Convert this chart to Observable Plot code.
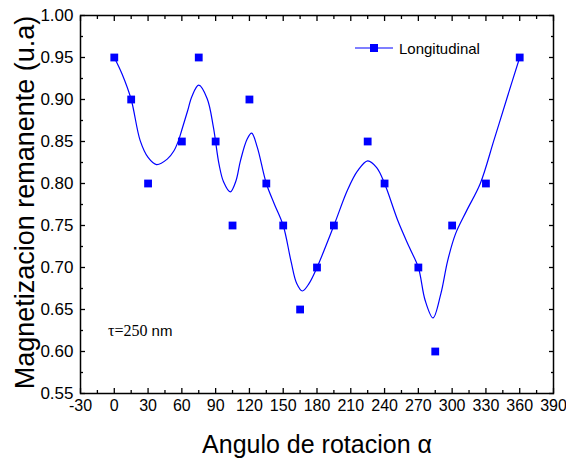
<!DOCTYPE html>
<html><head><meta charset="utf-8">
<script src="https://cdn.jsdelivr.net/npm/d3@7"></script>
<script src="https://cdn.jsdelivr.net/npm/@observablehq/plot@0.6"></script>
<style>
body{margin:0;background:#fff}
#chart{position:relative;width:566px;height:465px}
#overlay{position:absolute;left:0;top:0;pointer-events:none}
</style>
</head><body><div id="chart"></div>
<script>
// measured data points
const angles = [0,15,30,60,75,90,105,120,135,150,165,180,195,225,240,270,285,300,330,360];
const magnet = [0.95,0.90,0.80,0.85,0.95,0.85,0.75,0.90,0.80,0.75,0.65,0.70,0.75,0.85,0.80,0.70,0.60,0.75,0.80,0.95];
// smooth fit curve
const fitAngles = [0,7,15,23,30,37.5,47,53,57,60,65,69,75,82.5,88,93,97,103,108,112,118,122,127,135,142,150,157,162,167,173,180,195,207,216,225,233,240,252,262,270,276,283,290,296,303,313,325,337,349,360];
const fitValues = [0.950,0.930,0.900,0.851,0.831,0.8225,0.829,0.839,0.851,0.864,0.886,0.904,0.917,0.901,0.867,0.823,0.802,0.790,0.803,0.827,0.853,0.860,0.843,0.800,0.776,0.750,0.707,0.681,0.672,0.681,0.700,0.750,0.792,0.815,0.827,0.819,0.800,0.755,0.724,0.700,0.661,0.640,0.669,0.708,0.740,0.768,0.800,0.851,0.903,0.950];
const xTicks = [-30,0,30,60,90,120,150,180,210,240,270,300,330,360,390];
const yTicks = [0.55,0.60,0.65,0.70,0.75,0.80,0.85,0.90,0.95,1.00];
const seriesName = "Longitudinal";
const xTitle = "Angulo de rotacion α";
const yTitle = "Magnetizacion remanente (u.a)";

const xMinor = xTicks.slice(0,-1).map((d,i)=>(d+xTicks[i+1])/2);
const yMinor = yTicks.slice(0,-1).map((d,i)=>+((d+yTicks[i+1])/2).toFixed(3));

const points = angles.map((a,i)=>({a, m: magnet[i]}));
const fit = fitAngles.map((a,i)=>({a, m: fitValues[i]}));

const blue = "#0000ff";
const font = "'Liberation Sans', Arial, sans-serif";
const W = 566, H = 465;

const plot = Plot.plot({
  width: W, height: H,
  marginLeft: 80, marginTop: 15, marginRight: 13, marginBottom: 72,
  style: {fontFamily: font, fontSize: "17px", background: "white", color: "black"},
  x: {domain: [-30, 390], axis: null},
  y: {domain: [0.55, 1.0], axis: null},
  marks: [
    Plot.line(fit, {x: "a", y: "m", curve: "catmull-rom", stroke: blue, strokeWidth: 1.2}),
    Plot.dot(points, {x: "a", y: "m", symbol: "square", r: 4.4, fill: blue, stroke: "none"}),
    // labels
    Plot.axisX({ticks: xTicks, tickSize: 0, tickPadding: 6, tickFormat: d => String(d), label: null, fontSize: 16}),
    Plot.axisY({ticks: yTicks, tickSize: 0, tickPadding: 7, tickFormat: d3.format(".2f"), label: null, fontSize: 17}),
    // inward ticks, all sides
    Plot.axisX({ticks: xTicks, tickSize: -5, text: null, label: null, strokeWidth: 1.3}),
    Plot.axisX({ticks: xMinor, tickSize: -3, text: null, label: null, strokeWidth: 1.3}),
    Plot.axisX({anchor: "top", ticks: xTicks, tickSize: -5, text: null, label: null, strokeWidth: 1.3}),
    Plot.axisX({anchor: "top", ticks: xMinor, tickSize: -3, text: null, label: null, strokeWidth: 1.3}),
    Plot.axisY({ticks: yTicks, tickSize: -5, text: null, label: null, strokeWidth: 1.3}),
    Plot.axisY({ticks: yMinor, tickSize: -3, text: null, label: null, strokeWidth: 1.3}),
    Plot.axisY({anchor: "right", ticks: yTicks, tickSize: -5, text: null, label: null, strokeWidth: 1.3}),
    Plot.axisY({anchor: "right", ticks: yMinor, tickSize: -3, text: null, label: null, strokeWidth: 1.3}),
    Plot.frame({stroke: "black", strokeWidth: 1.5}),
    // axis titles
    Plot.text([xTitle], {frameAnchor: "bottom", dy: 59, lineAnchor: "bottom", textAnchor: "middle", fontSize: 25, fill: "black"}),
    Plot.text([yTitle], {frameAnchor: "left", dx: -47, dy: -2, rotate: -90, lineAnchor: "bottom", textAnchor: "middle", fontSize: 27, fill: "black"})
  ]
});
const chart = document.getElementById("chart");
chart.appendChild(plot);

// legend and annotation overlay
const ov = d3.select(chart).append("svg").attr("id","overlay").attr("width",W).attr("height",H)
  .style("font-family", font);
const lg = ov.append("g");
lg.append("line").attr("x1",355).attr("x2",393).attr("y1",48).attr("y2",48).attr("stroke",blue).attr("stroke-width",1.2);
lg.append("rect").attr("x",370).attr("y",44).attr("width",8).attr("height",8).attr("fill",blue);
lg.append("text").attr("x",399).attr("y",53.5).attr("font-size",15).attr("fill","black").text(seriesName);
const ann = ov.append("text").attr("x",108).attr("y",336).attr("fill","black");
ann.append("tspan").attr("font-family","'Liberation Serif', 'Times New Roman', serif").attr("font-size",16).text("τ=250");
ann.append("tspan").attr("font-size",15).text(" nm");
</script>
</body></html>
